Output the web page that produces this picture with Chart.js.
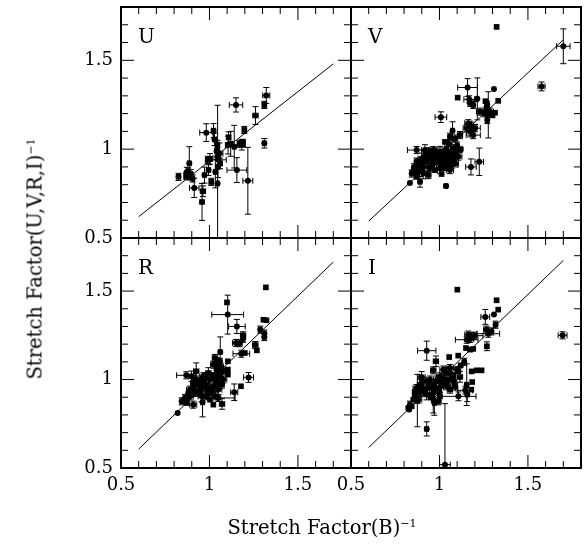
<!DOCTYPE html>
<html>
<head>
<meta charset="utf-8">
<script src="https://cdn.jsdelivr.net/npm/chart.js@4.4.0/dist/chart.umd.min.js"></script>
<style>
  body { margin: 0; background: #fff; }
  #wrap { position: relative; width: 586px; height: 547px; overflow: hidden; font-family: 'DejaVu Serif', serif; color: #000; }
  #wrap canvas { position: absolute; left: 0; top: 0; }
  #xTitle { position: absolute; left: 322px; top: 527px; transform: translate(-50%, -50%); font-size: 19.5px; white-space: nowrap; }
  #yTitle { position: absolute; left: 35px; top: 259px; transform: translate(-50%, -50%) rotate(-90deg); font-size: 19.5px; white-space: nowrap; }
  sup { font-size: 11px; vertical-align: 7px; line-height: 0; }
</style>
</head>
<body>
<div id="wrap">
  <canvas id="cU" width="586" height="547"></canvas>
  <canvas id="cV" width="586" height="547"></canvas>
  <canvas id="cR" width="586" height="547"></canvas>
  <canvas id="cI" width="586" height="547"></canvas>
  <div id="xTitle">Stretch Factor(B)<sup>&minus;1</sup></div>
  <div id="yTitle">Stretch Factor(U,V,R,I)<sup>&minus;1</sup></div>
</div>
<script>
// axis setup shared by all four panels
var axisMin = 0.5;
var axisMax = 1.8;
var majorTicks = [0.5, 1, 1.5];
var minorTicks = [0.6, 0.7, 0.8, 0.9, 1.1, 1.2, 1.3, 1.4, 1.6, 1.7];

// end points of the relation drawn in each panel
var lineX = [0.6, 1.7];
var lineU = [0.62, 1.48];
var lineV = [0.595, 1.615];
var lineR = [0.607, 1.664];
var lineI = [0.616, 1.673];

// points: [x, y, xerr, yerr]
var uCirc = [
  [0.825, 0.844, 0.012, 0.02], [0.886, 0.92, 0.01, 0.094], [0.872, 0.868, 0.01, 0.03],
  [0.895, 0.86, 0.01, 0.025], [0.905, 0.835, 0.01, 0.02], [0.914, 0.782, 0.027, 0.054],
  [0.958, 0.703, 0.012, 0.104], [0.963, 0.763, 0.015, 0.03], [0.972, 0.854, 0.01, 0.045],
  [0.982, 1.093, 0.037, 0.05], [0.995, 0.882, 0.01, 0.03], [1.023, 1.104, 0.012, 0.04],
  [1.029, 1.055, 0.01, 0.035], [1.033, 0.872, 0.01, 0.09], [1.046, 0.807, 0.008, 0.44],
  [1.04, 0.99, 0.01, 0.05], [1.05, 0.95, 0.01, 0.04], [1.048, 0.9, 0.012, 0.06],
  [1.056, 0.975, 0.02, 0.06], [1.105, 1.023, 0.015, 0.05], [1.14, 1.014, 0.01, 0.12],
  [1.15, 1.249, 0.038, 0.04], [1.155, 0.882, 0.056, 0.07], [1.217, 0.822, 0.028, 0.188],
  [1.26, 1.189, 0.015, 0.05], [1.321, 1.302, 0.02, 0.045], [1.31, 1.033, 0.01, 0.027],
  [1.05, 0.94, 0.045, 0.03], [1.12, 1.03, 0.01, 0.07]
];
var uSq = [
  [0.868, 0.85, 0.01, 0.02], [0.88, 0.875, 0.01, 0.02], [0.99, 0.94, 0.01, 0.02],
  [1.003, 0.945, 0.012, 0.03], [1.01, 0.816, 0.01, 0.02], [1.045, 1.02, 0.01, 0.03],
  [1.06, 0.92, 0.01, 0.03], [1.108, 1.067, 0.01, 0.03], [1.17, 1.03, 0.01, 0.02],
  [1.183, 1.025, 0.012, 0.03], [1.19, 1.035, 0.01, 0.02], [1.197, 1.108, 0.01, 0.02],
  [1.31, 1.249, 0.01, 0.02]
];

var vCirc = [
  [1.70, 1.579, 0.038, 0.098], [1.577, 1.353, 0.02, 0.025], [1.308, 1.338, 0, 0],
  [1.159, 1.347, 0.056, 0.05], [1.214, 1.283, 0.006, 0.118], [1.168, 1.28, 0.03, 0.02],
  [1.175, 1.26, 0.015, 0.02], [1.191, 1.249, 0.01, 0.02], [1.27, 1.25, 0.01, 0.02],
  [1.265, 1.235, 0.01, 0.03], [1.276, 1.193, 0.01, 0.13], [1.229, 1.211, 0.02, 0.02],
  [1.257, 1.202, 0.015, 0.02], [1.285, 1.211, 0.02, 0.02], [1.27, 1.164, 0.01, 0.02],
  [1.008, 1.18, 0.033, 0.03], [1.163, 1.146, 0.02, 0.02], [1.182, 1.127, 0.03, 0.025],
  [1.154, 1.118, 0.02, 0.02], [1.201, 1.118, 0.03, 0.02], [1.173, 1.099, 0.02, 0.03],
  [1.191, 1.079, 0.04, 0.02], [1.074, 1.104, 0.01, 0.05], [1.059, 1.07, 0.01, 0.02],
  [1.088, 1.06, 0.015, 0.02], [1.116, 1.079, 0.015, 0.02], [1.05, 1.032, 0.02, 0.02],
  [0.871, 0.995, 0.052, 0.02], [1.178, 0.90, 0.03, 0.045], [1.225, 0.929, 0.024, 0.077],
  [0.833, 0.81, 0, 0], [1.037, 0.793, 0.01, 0.006],
  [0.918, 0.995, 0.02, 0.03], [0.937, 0.967, 0.015, 0.04], [0.965, 0.995, 0.02, 0.02],
  [0.984, 0.977, 0.01, 0.03], [0.956, 0.948, 0.02, 0.02], [1.003, 0.986, 0.015, 0.03],
  [1.022, 0.967, 0.02, 0.04], [1.041, 0.995, 0.01, 0.02], [1.059, 0.977, 0.02, 0.02],
  [1.078, 1.005, 0.015, 0.02], [1.107, 0.958, 0.02, 0.02], [0.899, 0.948, 0.02, 0.03],
  [0.927, 0.93, 0.015, 0.02], [0.965, 0.92, 0.02, 0.03], [0.994, 0.93, 0.01, 0.02],
  [1.022, 0.939, 0.02, 0.02], [1.05, 0.93, 0.015, 0.03], [1.069, 0.911, 0.035, 0.02],
  [1.088, 0.92, 0.02, 0.02], [1.041, 0.901, 0.01, 0.02], [1.003, 0.892, 0.02, 0.03],
  [0.946, 0.892, 0.015, 0.02], [0.908, 0.901, 0.02, 0.02], [0.88, 0.911, 0.01, 0.03],
  [0.862, 0.882, 0.02, 0.02], [0.843, 0.863, 0.01, 0.02], [0.908, 0.863, 0.02, 0.03],
  [0.937, 0.854, 0.015, 0.02], [0.89, 0.816, 0.01, 0.03], [1.059, 0.882, 0.02, 0.02],
  [1.031, 0.944, 0.015, 0.02], [0.946, 0.981, 0.01, 0.02], [0.975, 0.953, 0.02, 0.02],
  [1.012, 0.916, 0.015, 0.03], [0.894, 0.882, 0.02, 0.02], [0.856, 0.898, 0.01, 0.02],
  [0.994, 0.958, 0.02, 0.02], [1.05, 0.953, 0.01, 0.02], [1.078, 0.948, 0.03, 0.02],
  [0.87, 0.93, 0.01, 0.02], [0.93, 0.95, 0.01, 0.01], [0.98, 0.94, 0.01, 0.02],
  [1.0, 0.97, 0.01, 0.01], [1.03, 0.98, 0.01, 0.02], [1.06, 0.96, 0.01, 0.01],
  [1.09, 0.98, 0.01, 0.02], [0.95, 0.97, 0.01, 0.01], [0.92, 0.97, 0.01, 0.02],
  [0.85, 0.87, 0.01, 0.01], [0.87, 0.86, 0.01, 0.02], [0.9, 0.88, 0.01, 0.01],
  [1.02, 0.9, 0.01, 0.02], [1.08, 0.93, 0.01, 0.01], [1.1, 1.02, 0.01, 0.02],
  [1.12, 1.0, 0.01, 0.01]
];
var vSq = [
  [1.323, 1.688, 0, 0], [1.103, 1.29, 0, 0], [1.332, 1.272, 0, 0], [1.314, 1.205, 0, 0],
  [1.031, 1.041, 0, 0], [1.116, 0.995, 0, 0], [0.975, 0.882, 0, 0], [0.871, 0.844, 0, 0],
  [1.012, 0.86, 0, 0], [1.3, 1.19, 0, 0], [1.26, 1.27, 0, 0], [0.96, 0.91, 0, 0],
  [1.04, 0.92, 0, 0], [0.9, 0.93, 0, 0]
];

var rCirc = [
  [1.103, 1.367, 0.09, 0.11], [1.155, 1.30, 0.047, 0.04], [1.287, 1.282, 0.01, 0.02],
  [1.31, 1.26, 0.01, 0.02], [1.31, 1.24, 0.01, 0.02], [1.19, 1.25, 0.015, 0.02],
  [1.19, 1.23, 0.01, 0.02], [1.15, 1.207, 0.02, 0.02], [1.17, 1.205, 0.015, 0.02],
  [1.259, 1.195, 0.015, 0.02], [1.18, 1.146, 0.047, 0.02], [1.061, 1.156, 0.01, 0.085],
  [1.221, 1.012, 0.028, 0.028], [0.869, 1.024, 0.055, 0.02], [0.925, 1.047, 0.015, 0.047],
  [1.14, 0.928, 0.02, 0.047], [1.051, 0.896, 0.094, 0.02], [0.961, 0.871, 0.01, 0.082],
  [1.071, 0.862, 0.015, 0.03], [0.82, 0.811, 0, 0],
  [0.89, 0.943, 0.02, 0.02], [0.908, 0.981, 0.015, 0.03], [0.927, 1.0, 0.02, 0.02],
  [0.946, 0.962, 0.01, 0.03], [0.965, 0.99, 0.02, 0.02], [0.984, 0.971, 0.015, 0.03],
  [1.003, 1.0, 0.02, 0.02], [0.975, 1.018, 0.01, 0.02], [0.994, 1.037, 0.015, 0.03],
  [0.89, 0.905, 0.02, 0.02], [0.918, 0.924, 0.015, 0.02], [0.937, 0.934, 0.02, 0.03],
  [0.862, 0.896, 0.01, 0.02], [0.843, 0.877, 0.01, 0.02], [0.908, 0.858, 0.02, 0.02],
  [0.956, 0.905, 0.02, 0.03], [0.984, 0.905, 0.015, 0.02], [1.012, 0.934, 0.02, 0.02],
  [1.022, 0.962, 0.015, 0.03], [1.041, 0.981, 0.02, 0.02], [0.984, 0.943, 0.01, 0.02],
  [0.937, 0.971, 0.02, 0.02], [0.899, 1.018, 0.015, 0.03], [0.965, 1.018, 0.02, 0.02],
  [1.031, 0.905, 0.015, 0.02], [1.05, 0.943, 0.02, 0.03], [1.069, 0.971, 0.015, 0.02],
  [1.078, 1.0, 0.02, 0.02], [1.031, 1.122, 0.015, 0.02], [1.041, 1.094, 0.01, 0.03],
  [1.059, 1.075, 0.02, 0.02], [1.022, 1.084, 0.015, 0.02], [1.05, 1.046, 0.02, 0.02],
  [1.041, 1.015, 0.01, 0.02],
  [0.88, 0.92, 0.01, 0.01], [0.91, 0.95, 0.01, 0.02], [0.95, 0.93, 0.01, 0.01],
  [0.97, 0.96, 0.01, 0.02], [1.0, 0.95, 0.01, 0.01], [1.02, 1.02, 0.01, 0.02],
  [1.06, 1.02, 0.01, 0.01], [1.08, 1.05, 0.01, 0.02], [0.92, 0.99, 0.01, 0.01],
  [0.96, 1.0, 0.01, 0.02], [1.0, 0.92, 0.01, 0.01], [0.87, 0.88, 0.01, 0.02],
  [1.04, 1.06, 0.01, 0.01], [1.06, 1.1, 0.01, 0.02]
];
var rSq = [
  [1.319, 1.521, 0, 0], [1.099, 1.436, 0, 0], [1.305, 1.338, 0, 0], [1.322, 1.335, 0, 0],
  [1.268, 1.165, 0, 0], [1.104, 1.103, 0, 0], [1.104, 1.056, 0, 0], [1.104, 1.028, 0, 0],
  [1.178, 0.962, 0, 0], [0.871, 0.867, 0, 0], [1.003, 0.886, 0, 0], [1.022, 0.858, 0, 0],
  [1.069, 1.046, 0, 0], [1.2, 1.15, 0, 0]
];

var iCirc = [
  [1.259, 1.354, 0.025, 0.042], [1.308, 1.367, 0, 0], [1.317, 1.31, 0.01, 0.02],
  [1.696, 1.25, 0.025, 0.02], [1.276, 1.259, 0.064, 0.02], [1.265, 1.282, 0.015, 0.02],
  [1.294, 1.272, 0.01, 0.02], [1.163, 1.254, 0.02, 0.02], [1.182, 1.244, 0.015, 0.02],
  [1.201, 1.248, 0.045, 0.02], [1.173, 1.229, 0.02, 0.02], [1.154, 1.225, 0.064, 0.02],
  [0.928, 1.163, 0.052, 0.054], [0.98, 1.103, 0.015, 0.03], [1.154, 0.971, 0.01, 0.118],
  [1.146, 0.939, 0.042, 0.02], [1.107, 0.905, 0.1, 0.025], [1.157, 0.915, 0.01, 0.04],
  [0.965, 0.886, 0.01, 0.075], [0.875, 0.881, 0.01, 0.148], [0.829, 0.83, 0, 0],
  [0.928, 0.721, 0.01, 0.04], [1.031, 0.519, 0.03, 0.345], [0.971, 0.868, 0.01, 0.07],
  [0.965, 1.052, 0.015, 0.02], [1.022, 1.056, 0.02, 0.02], [1.041, 1.037, 0.01, 0.03],
  [1.059, 1.065, 0.02, 0.02], [1.069, 1.028, 0.015, 0.03], [1.003, 1.018, 0.02, 0.02],
  [1.031, 1.0, 0.015, 0.03], [1.078, 0.99, 0.02, 0.02], [1.116, 1.015, 0.015, 0.03],
  [0.871, 0.952, 0.02, 0.02], [0.89, 0.971, 0.015, 0.03], [0.908, 0.99, 0.02, 0.02],
  [0.937, 0.981, 0.01, 0.02], [0.956, 0.952, 0.02, 0.03], [0.918, 0.943, 0.015, 0.02],
  [0.89, 0.924, 0.02, 0.02], [0.927, 0.915, 0.015, 0.03], [0.965, 0.924, 0.02, 0.02],
  [0.984, 0.943, 0.015, 0.02], [1.003, 0.958, 0.02, 0.03], [0.862, 0.905, 0.015, 0.02],
  [0.88, 0.886, 0.02, 0.02], [0.833, 0.858, 0.01, 0.02], [0.824, 0.839, 0.01, 0.01],
  [0.994, 0.877, 0.015, 0.02], [0.946, 1.0, 0.02, 0.02], [0.984, 0.99, 0.015, 0.03],
  [1.041, 0.962, 0.02, 0.02], [1.012, 0.981, 0.015, 0.02], [0.899, 1.015, 0.02, 0.03],
  [1.059, 0.943, 0.015, 0.02],
  [0.86, 0.93, 0.01, 0.01], [0.9, 0.95, 0.01, 0.02], [0.94, 0.96, 0.01, 0.01],
  [0.97, 0.97, 0.01, 0.02], [0.99, 1.0, 0.01, 0.01], [1.02, 1.0, 0.01, 0.02],
  [1.05, 1.0, 0.01, 0.01], [1.08, 1.02, 0.01, 0.02], [1.1, 1.06, 0.01, 0.01],
  [0.92, 0.93, 0.01, 0.02], [0.95, 0.9, 0.01, 0.01], [1.0, 0.93, 0.01, 0.02],
  [1.04, 0.98, 0.01, 0.01], [1.09, 0.96, 0.01, 0.02], [1.12, 1.08, 0.01, 0.01],
  [1.14, 1.1, 0.01, 0.02]
];
var iSq = [
  [1.101, 1.508, 0, 0], [1.323, 1.448, 0, 0], [1.332, 1.395, 0, 0], [1.268, 1.188, 0, 0.025],
  [1.15, 1.178, 0, 0], [1.173, 1.169, 0, 0], [1.191, 1.173, 0, 0], [1.182, 1.046, 0, 0],
  [1.21, 1.052, 0, 0], [1.238, 1.052, 0, 0], [1.055, 1.127, 0, 0], [1.106, 1.135, 0, 0],
  [1.185, 0.986, 0, 0], [1.107, 1.046, 0, 0], [1.088, 0.962, 0, 0], [0.852, 0.886, 0, 0],
  [0.843, 0.849, 0, 0], [1.003, 0.905, 0, 0], [1.18, 0.943, 0, 0]
];

var serif = 'DejaVu Serif';
var yAxisW = 60;   // room kept for the y tick labels
var xAxisH = 40;   // room kept for the x tick labels

function toPoints(list) {
  return list.map(function(p) { return { x: p[0], y: p[1], ex: p[2], ey: p[3] }; });
}

// error bars with small caps, clipped to the plot box
var errorBars = {
  id: 'errorBars',
  beforeDatasetsDraw: function(chart) {
    var ctx = chart.ctx, a = chart.chartArea;
    var sx = chart.scales.x, sy = chart.scales.y;
    var cap = 3;
    ctx.save();
    ctx.beginPath(); ctx.rect(a.left, a.top, a.width, a.height); ctx.clip();
    ctx.strokeStyle = '#000'; ctx.lineWidth = 1;
    chart.data.datasets.forEach(function(ds) {
      if (!ds.withErrors) return;
      ds.data.forEach(function(p) {
        var px = sx.getPixelForValue(p.x), py = sy.getPixelForValue(p.y);
        ctx.beginPath();
        if (p.ex > 0) {
          var x0 = sx.getPixelForValue(p.x - p.ex), x1 = sx.getPixelForValue(p.x + p.ex);
          ctx.moveTo(x0, py); ctx.lineTo(x1, py);
          ctx.moveTo(x0, py - cap); ctx.lineTo(x0, py + cap);
          ctx.moveTo(x1, py - cap); ctx.lineTo(x1, py + cap);
        }
        if (p.ey > 0) {
          var y0 = sy.getPixelForValue(p.y - p.ey), y1 = sy.getPixelForValue(p.y + p.ey);
          ctx.moveTo(px, y0); ctx.lineTo(px, y1);
          ctx.moveTo(px - cap, y0); ctx.lineTo(px + cap, y0);
          ctx.moveTo(px - cap, y1); ctx.lineTo(px + cap, y1);
        }
        ctx.stroke();
      });
    });
    ctx.restore();
  }
};

// box, inward ticks on every side and the band letter
var panelFrame = {
  id: 'panelFrame',
  afterDraw: function(chart, args, opts) {
    var ctx = chart.ctx, a = chart.chartArea;
    var sx = chart.scales.x, sy = chart.scales.y;
    ctx.save();
    ctx.strokeStyle = '#000';
    ctx.lineWidth = 1;
    ctx.beginPath();
    function tick(v, len) {
      var px = sx.getPixelForValue(v), py = sy.getPixelForValue(v);
      ctx.moveTo(px, a.bottom); ctx.lineTo(px, a.bottom - len);
      ctx.moveTo(px, a.top); ctx.lineTo(px, a.top + len);
      ctx.moveTo(a.left, py); ctx.lineTo(a.left + len, py);
      ctx.moveTo(a.right, py); ctx.lineTo(a.right - len, py);
    }
    majorTicks.forEach(function(v) { tick(v, 13); });
    minorTicks.forEach(function(v) { tick(v, 7); });
    ctx.stroke();
    ctx.lineWidth = 2;
    ctx.strokeRect(a.left, a.top, a.width, a.height);
    ctx.fillStyle = '#000';
    ctx.font = '20px "' + serif + '"';
    ctx.textBaseline = 'alphabetic';
    ctx.fillText(opts.label, a.left + 17, a.top + 36);
    ctx.restore();
  }
};

function makePanel(id, label, circ, sq, lineY, box, showX, showY) {
  var tickFont = { family: serif, size: 18 };
  return new Chart(document.getElementById(id), {
    type: 'scatter',
    data: {
      datasets: [
        { data: toPoints(circ), withErrors: true, pointStyle: 'circle', pointRadius: 3,
          backgroundColor: '#000', borderColor: '#000', borderWidth: 0 },
        { data: toPoints(sq), withErrors: true, pointStyle: 'rect', pointRadius: 4,
          backgroundColor: '#000', borderColor: '#000', borderWidth: 0 },
        { type: 'line', data: [{ x: lineX[0], y: lineY[0] }, { x: lineX[1], y: lineY[1] }],
          borderColor: '#000', borderWidth: 1, pointRadius: 0, fill: false }
      ]
    },
    options: {
      responsive: false,
      animation: false,
      devicePixelRatio: 1,
      layout: { padding: { left: box[0] - yAxisW, top: box[1], right: 586 - box[2], bottom: 547 - box[3] - xAxisH } },
      plugins: { legend: { display: false }, tooltip: { enabled: false }, panelFrame: { label: label } },
      scales: {
        x: {
          type: 'linear', min: axisMin, max: axisMax,
          afterBuildTicks: function(s) { s.ticks = majorTicks.map(function(v) { return { value: v }; }); },
          afterFit: function(s) { s.height = xAxisH; s.paddingLeft = 0; s.paddingRight = 0; },
          grid: { display: false, drawTicks: false }, border: { display: false },
          ticks: { display: showX, color: '#000', font: tickFont, padding: 7, maxRotation: 0, autoSkip: false,
                   callback: function(v) { return String(v); } }
        },
        y: {
          type: 'linear', min: axisMin, max: axisMax,
          afterBuildTicks: function(s) { s.ticks = majorTicks.map(function(v) { return { value: v }; }); },
          afterFit: function(s) { s.width = yAxisW; s.paddingTop = 0; s.paddingBottom = 0; },
          grid: { display: false, drawTicks: false }, border: { display: false },
          ticks: { display: showY, color: '#000', font: tickFont, padding: 8, autoSkip: false,
                   callback: function(v) { return String(v); } }
        }
      }
    },
    plugins: [errorBars, panelFrame]
  });
}

makePanel('cU', 'U', uCirc, uSq, lineU, [121, 7, 351, 238], false, true);
makePanel('cV', 'V', vCirc, vSq, lineV, [351, 7, 581, 238], false, false);
makePanel('cR', 'R', rCirc, rSq, lineR, [121, 238, 351, 468], true, true);
makePanel('cI', 'I', iCirc, iSq, lineI, [351, 238, 581, 468], true, false);
</script>
</body>
</html>
